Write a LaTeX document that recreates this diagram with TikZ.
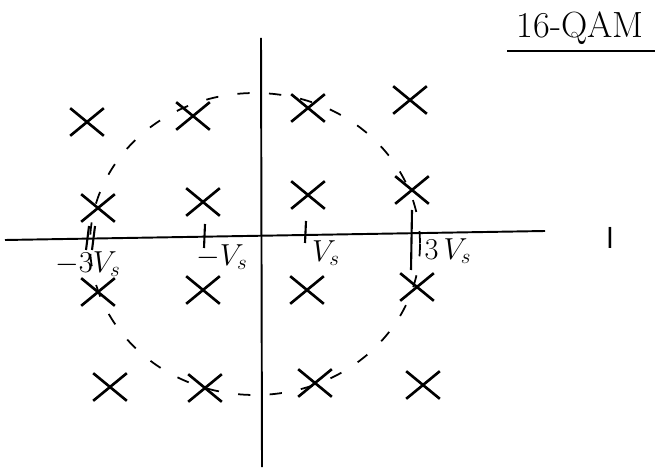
\documentclass[tikz,border=0pt]{standalone}
\usepackage{tikz}
\usetikzlibrary{shapes.misc}

\begin{document}
\begin{tikzpicture}[x=0.02cm, y=-0.02cm, font=\LARGE,
    sym/.style={draw, cross out, line width=1.5pt, minimum width=0.62cm,
                minimum height=0.5cm, inner sep=0pt},
    axis/.style={line width=1.1pt},
    ring/.style={dashed, dash pattern=on 7pt off 11pt, line width=1pt},
    tick/.style={line width=1.2pt}]
  \useasboundingbox (0,0) rectangle (658,472);

  % axes
  \coordinate (xl) at (5,240);
  \coordinate (xr) at (545,231);
  \coordinate (yt) at (261,38);
  \coordinate (yb) at (262,467);
  \draw[axis] (xl) -- (xr);
  \draw[axis] (yt) -- (yb);

  % constellation points
  \foreach \name/\px/\py in {a1/87/122, a2/193/116, a3/308/108, a4/410/100,
                             b1/98/208, b2/203/202, b3/308/195, b4/412/190,
                             c1/98/292, c2/203/290, c3/307/290, c4/417/287,
                             d1/110/387, d2/205/388, d3/315/383, d4/423/385} {
    \node[sym] (\name) at (\px,\py) {};
  }

  % dashed circle through the corner points
  \draw[ring] (255,244) ellipse [x radius=165, y radius=151];

  % ticks on the axis
  \coordinate (t1a) at (89,226);  \coordinate (t1b) at (86,250);
  \coordinate (t2a) at (95,226);  \coordinate (t2b) at (92,250);
  \coordinate (t3a) at (205,224); \coordinate (t3b) at (204,248);
  \coordinate (t4a) at (306,221); \coordinate (t4b) at (305,243);
  \coordinate (t5a) at (412,210); \coordinate (t5b) at (411,270);
  \draw[tick] (t1a) -- (t1b);
  \draw[tick] (t2a) -- (t2b);
  \draw[tick] (t3a) -- (t3b);
  \draw[tick] (t4a) -- (t4b);
  \draw[tick] (t5a) -- (t5b);

  % labels
  \node (lm3) at (88,264) {$-3V_s$};
  \node (lm1) at (222,257) {$-V_s$};
  \node (lp1) at (326,253) {$V_s$};
  \node (lp3) at (448,251) {$3\,V_s$};
  \node[font=\LARGE\sffamily] (iaxis) at (610,238) {I};

  % title
  \node[font=\huge] (title) at (580,28) {16-QAM};
  \coordinate (ul) at (507,51);
  \coordinate (ur) at (655,51);
  \draw[line width=1.2pt] (ul) -- (ur);
\end{tikzpicture}
\end{document}
